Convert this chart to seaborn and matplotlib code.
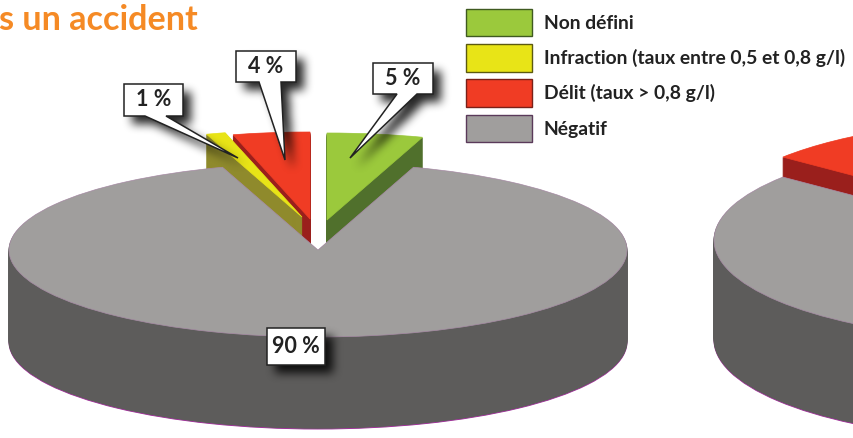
import matplotlib
matplotlib.use('Agg')
import matplotlib.pyplot as plt
import numpy as np
import seaborn as sns
from matplotlib.patches import Patch, Polygon
from matplotlib.path import Path

# ── data ──────────────────────────────────────────────────────────────────────
categories = ['Non défini', 'Infraction (taux entre 0,5 et 0,8 g/l)',
              'Délit (taux > 0,8 g/l)', 'Négatif']
values_left = [5, 1, 4, 90]
value_labels = ['5 %', '1 %', '4 %', '90 %']
# second pie is cropped, only the red and grey parts show
values_right = [0, 0, 15, 85]
title_text = 's un accident'

top_colors = ['#9bc93c', '#e8e417', '#f03c24', '#a09e9d']
side_colors = ['#50702c', '#8f8a2c', '#9a1f1c', '#5d5c5b']
edge_colors = ['#3f5a20', '#5c5a10', '#7a2018', '#5a3a5a']

sns.set_theme(style='white')
plt.rcParams['font.family'] = ['Lato', 'DejaVu Sans']
W, H = 854, 438
fig = plt.figure(figsize=(W / 100, H / 100), dpi=100, facecolor='white')


def pie_axes(cx, cy, rx, ry):
    # full figure axes where one data unit is the pie radius, squashed into an ellipse
    ax = fig.add_axes([0, 0, 1, 1])
    ax._lims = ((0 - cx) / rx, (W - cx) / rx, (cy - H) / ry, cy / ry)
    ax._r = (rx, ry)
    return ax


def draw_slice(ax, values, idx, start, color, off=(0, 0), edge=None, lw=0.7):
    rx, ry = ax._r
    wedges, _ = ax.pie(values, startangle=start, colors=[color] * len(values),
                       center=(off[0] / rx, -off[1] / ry), normalize=True,
                       wedgeprops={'edgecolor': edge or color, 'linewidth': lw})
    for i, w in enumerate(wedges):
        if i != idx:
            w.remove()


def draw_block(ax, values, idx, start, off, depth, edge_bottom=None, edge_top=None):
    top, side = top_colors[order_of[idx]], side_colors[order_of[idx]]
    for d in range(depth, 0, -1):
        o = (off[0], off[1] + d)
        draw_slice(ax, values, idx, start, side, o,
                   edge=edge_bottom if d == depth else None)
    draw_slice(ax, values, idx, start, top, off, edge=edge_top, lw=0.5)


# ── left pie ──────────────────────────────────────────────────────────────────
# pie goes counter clockwise: green, red, yellow, grey
order_of = [0, 2, 1, 3]
left = [values_left[i] for i in order_of]
ax1 = pie_axes(318, 250, 309, 87)
start = 72
draw_block(ax1, left, 0, start, (9, -30), 40)
draw_block(ax1, left, 1, start, (-8, -31), 40)
draw_block(ax1, left, 2, start, (-16, -33), 40)
draw_block(ax1, left, 3, start, (0, 0), 92, edge_bottom='#a0309a', edge_top='#a88ca6')

# ── right pie (cropped) ───────────────────────────────────────────────────────
right = [values_right[i] for i in order_of]
ax2 = pie_axes(1023, 240, 309, 100)
draw_block(ax2, right, 1, 87, (0, -20), 30)
draw_block(ax2, right, 3, 87, (0, 0), 100, edge_bottom='#a0309a', edge_top='#a88ca6')

for ax in (ax1, ax2):
    ax.set_aspect('auto')
    ax.set_xlim(ax._lims[0], ax._lims[1])
    ax.set_ylim(ax._lims[2], ax._lims[3])
    ax.axis('off')

# ── overlay in pixel coordinates: callouts, legend, title ─────────────────────
ov = fig.add_axes([0, 0, 1, 1])
ov.patch.set_alpha(0)

callouts = [
    (value_labels[0], (373, 63, 433, 94), (350, 158), (397, 417)),
    (value_labels[2], (236, 51, 296, 82), (285, 160), (259, 281)),
    (value_labels[1], (124, 84, 183, 116), (238, 158), (145, 166)),
    (value_labels[3], (267, 328, 325, 365), None, None),
]


def outline(box, tip, base):
    x0, y0, x1, y1 = box
    if tip:
        return [(x0, y0), (x1, y0), (x1, y1), (base[1], y1), tip, (base[0], y1), (x0, y1)]
    return [(x0, y0), (x1, y0), (x1, y1), (x0, y1)]


# soft drop shadow: polygon mask blurred with a few box passes
gx, gy = np.meshgrid(np.arange(W) + 0.5, np.arange(H) + 0.5)
grid = np.column_stack([gx.ravel(), gy.ravel()])
mask = np.zeros((H, W))
for _, box, tip, base in callouts:
    shifted = [(x + 8, y + 8) for x, y in outline(box, tip, base)]
    mask[Path(shifted).contains_points(grid).reshape(H, W)] = 1
kernel = np.ones(9) / 9
for _ in range(3):
    mask = np.apply_along_axis(lambda r: np.convolve(r, kernel, mode='same'), 0, mask)
    mask = np.apply_along_axis(lambda r: np.convolve(r, kernel, mode='same'), 1, mask)
shadow = np.zeros((H, W, 4))
shadow[..., 3] = mask * 0.85
ov.imshow(shadow, extent=(0, W, H, 0), aspect='auto', interpolation='bilinear')
ov.set_xlim(0, W)
ov.set_ylim(H, 0)
ov.axis('off')

for label, box, tip, base in callouts:
    ov.add_patch(Polygon(outline(box, tip, base), closed=True, facecolor='white',
                         edgecolor='#222222', linewidth=1.1, joinstyle='miter'))
    ov.text((box[0] + box[2]) / 2, (box[1] + box[3]) / 2, label, ha='center', va='center',
            fontsize=15.5, fontweight='bold', color='#222222')

handles = [Patch(facecolor=c, edgecolor=e, linewidth=1.0)
           for c, e in zip(top_colors, edge_colors)]
fs = 13.9
leg = ov.legend(handles, categories, loc='upper left', bbox_to_anchor=(466 / W, 1 - 9 / H),
                bbox_transform=fig.transFigure, frameon=False, fontsize=fs,
                handlelength=3.42, handleheight=1.8, labelspacing=0.41, handletextpad=0.62,
                borderpad=0, borderaxespad=0)
for t in leg.get_texts():
    t.set_color('#222222')
    t.set_fontweight('bold')

ov.text(-1, 30, title_text, fontsize=24.6, fontweight='bold', color='#f58a25',
        ha='left', va='baseline', clip_on=False)

fig.savefig('out.png', dpi=100)
